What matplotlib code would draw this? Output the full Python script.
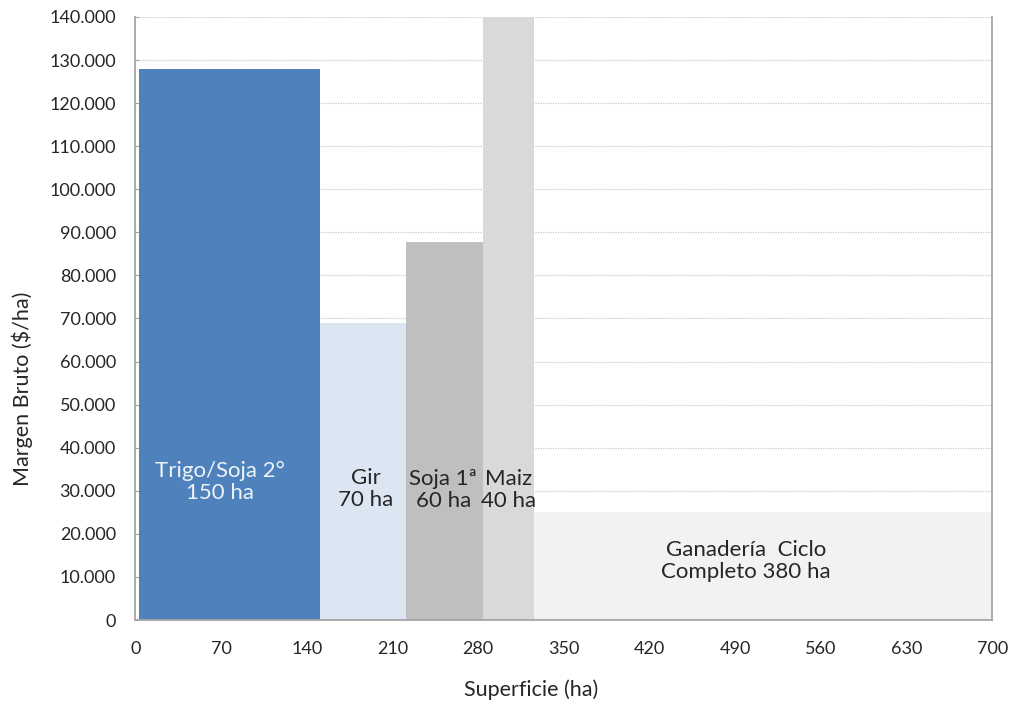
import numpy as np
import matplotlib.pyplot as plt

plt.rcParams['font.family'] = ['Lato', 'DejaVu Sans']

# Data
cultivos = ['Trigo/Soja 2°\n150 ha', 'Gir\n70 ha', 'Soja 1ª\n60 ha', 'Maiz\n40 ha',
            'Ganadería  Ciclo\nCompleto 380 ha']
inicio_ha = [3, 151, 221, 284, 326]          # left edge of each block (ha)
fin_ha = [151, 221, 284, 326, 700]           # right edge of each block (ha)
margen = [128000, 69000, 87700, 145000, 25000]  # Margen Bruto ($/ha)
colores = ['#4F81BD', '#DCE6F2', '#BFBFBF', '#D9D9D9', '#F2F2F2']
color_texto = ['#EEF3FA', '#262626', '#262626', '#262626', '#262626']
label_y = [32000, 30400, 30200, 30200, 13700]
label_dx = [-8, 2, -1, 0, -14]

x_ticks = np.arange(0, 701, 70)
y_ticks = np.arange(0, 140001, 10000)

fig = plt.figure(figsize=(10.15, 7.04), dpi=100)
ax = fig.add_axes([0.1333, 0.1193, 0.8443, 0.8566])

widths = np.array(fin_ha) - np.array(inicio_ha)
ax.bar(inicio_ha, margen, width=widths, align='edge', color=colores,
       edgecolor='none', zorder=2)

for i, txt in enumerate(cultivos):
    xc = inicio_ha[i] + widths[i] / 2 + label_dx[i]
    ax.text(xc, label_y[i], txt, ha='center', va='center', fontsize=16,
            color=color_texto[i], linespacing=1.12, zorder=3)

ax.set_xlim(0, 700)
ax.set_ylim(0, 140000)
ax.set_xticks(x_ticks)
ax.set_yticks(y_ticks)
ax.set_yticklabels([f'{v:,.0f}'.replace(',', '.') for v in y_ticks])
ax.tick_params(axis='both', labelsize=13, colors='#A6A6A6', labelcolor='#262626')
ax.tick_params(axis='x', length=0, pad=15)
ax.tick_params(axis='y', direction='in', length=3, pad=14)

ax.grid(axis='y', linestyle=(0, (1, 1)), color='#C8C8C8', linewidth=0.9, zorder=1)
ax.set_axisbelow(True)
for side in ['left', 'bottom', 'right']:
    ax.spines[side].set_color('#A6A6A6')
    ax.spines[side].set_linewidth(1.3)
ax.spines['top'].set_visible(False)

fig.text(22 / 1015, 1 - 389 / 704, 'Margen Bruto ($/ha)', rotation=90,
         ha='center', va='center', fontsize=15.5, color='#262626')
fig.text(531 / 1015, 1 - 690 / 704, 'Superficie (ha)', ha='center', va='center',
         fontsize=15.5, color='#262626')

fig.savefig('out.png', dpi=100)
